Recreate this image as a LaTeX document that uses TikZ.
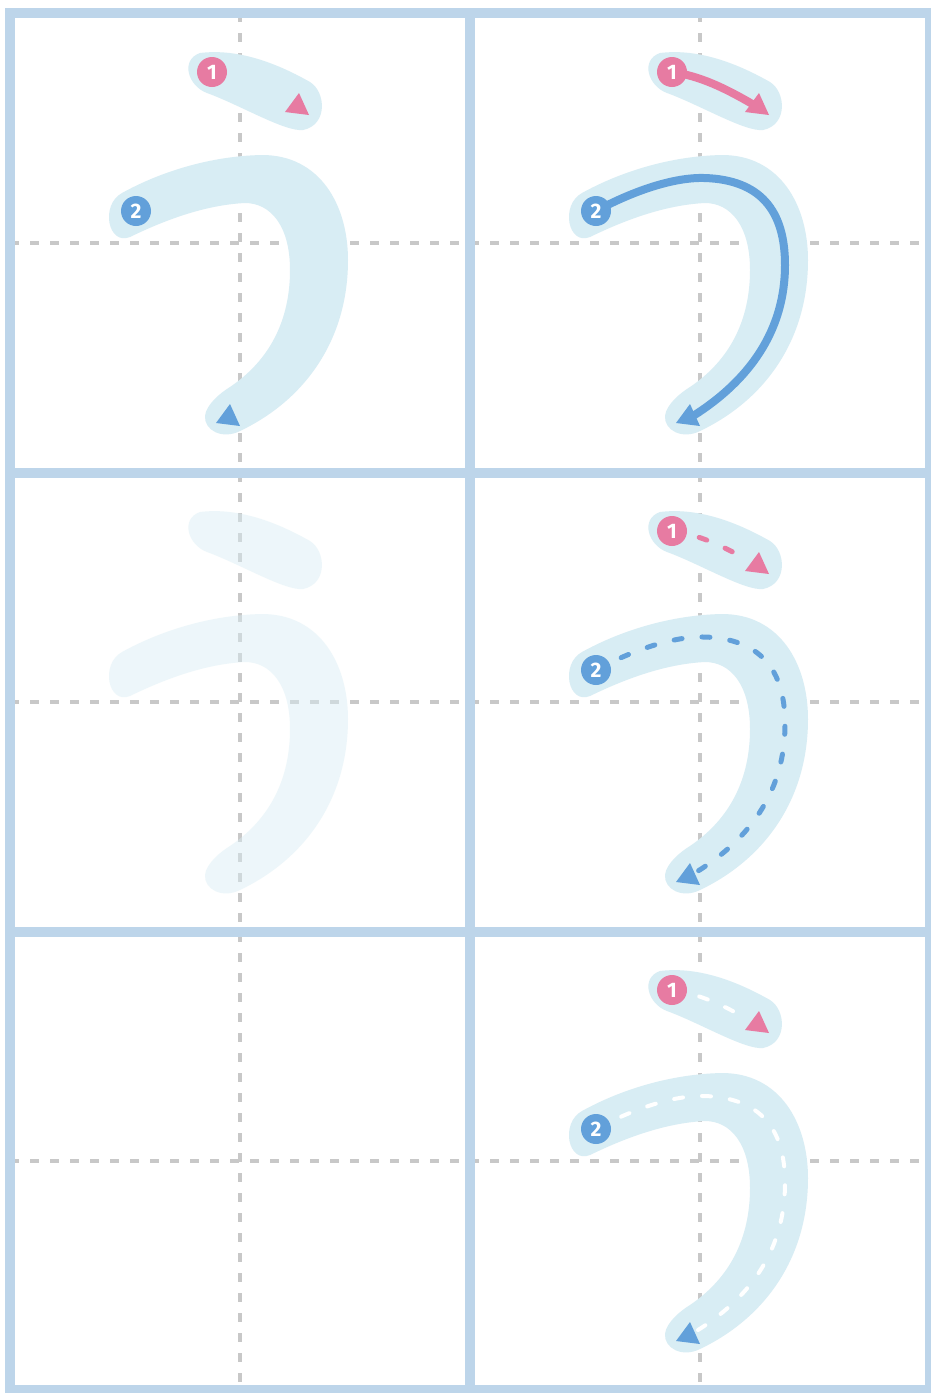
\documentclass[tikz,border=0pt]{standalone}
\usepackage{fontspec}
\newfontfamily\numfont{Fira Sans}
\definecolor{gridc}{HTML}{BDD5EA}
\definecolor{guidec}{HTML}{C8C8C8}
\definecolor{bandc}{HTML}{D8EDF4}
\definecolor{pinkc}{HTML}{E77BA2}
\definecolor{bluec}{HTML}{62A0DA}
\tikzset{
  gridline/.style={draw=gridc, line width=10pt},
  guide/.style={draw=guidec, line width=3.5pt, dash pattern=on 9pt off 11pt},
  numpink/.style={circle, fill=pinkc, text=white, inner sep=0pt, minimum size=30pt,
    font={\numfont\bfseries\fontsize{21pt}{21pt}\selectfont}},
  numblue/.style={numpink, fill=bluec},
  pinkline/.style={draw=pinkc, line width=8pt},
  blueline/.style={draw=bluec, line width=8pt},
  pinkdash/.style={draw=pinkc, line width=5pt, line cap=round, dash pattern=on 8pt off 20pt},
  bluedash/.style={draw=bluec, line width=5pt, line cap=round, dash pattern=on 8pt off 20pt},
  whitedash/.style={draw=white, line width=4pt, line cap=round, dash pattern=on 9pt off 19pt},
  bandone/.pic={\fill[bandc] (200,53) .. controls (240,48) and (280,65) .. (310,82)
      .. controls (326,92) and (328,125) .. (303,130)
      .. controls (285,132) and (240,105) .. (207,93)
      .. controls (188,86) and (180,60) .. (200,53) -- cycle;},
  bandtwo/.pic={\fill[bandc] (122,193) .. controls (160,172) and (210,156) .. (262,155)
      .. controls (320,155) and (348,205) .. (348,260)
      .. controls (348,340) and (305,400) .. (240,431)
      .. controls (222,440) and (204,430) .. (205,416)
      .. controls (206,405) and (220,393) .. (230,387)
      .. controls (270,360) and (290,320) .. (290,270)
      .. controls (290,225) and (270,203) .. (245,203)
      .. controls (205,205) and (165,220) .. (130,237)
      .. controls (108,246) and (100,205) .. (122,193) -- cycle;},
  tripink/.pic={\fill[pinkc] (285,112) -- (309,115) -- (299,93) -- cycle;},
  triblue/.pic={\fill[bluec] (216,423) -- (240,426) -- (230,404) -- cycle;}
}
\begin{document}
\begin{tikzpicture}[x=1pt, y=-1pt]
\useasboundingbox (0,0) rectangle (930,1393);
\fill[white] (0,0) rectangle (930,1393);

% guide lines
\coordinate (gv1t) at (240,13);  \coordinate (gv1b) at (240,1390);
\coordinate (gv2t) at (700,13);  \coordinate (gv2b) at (700,1390);
\coordinate (gh1l) at (10,243);  \coordinate (gh1r) at (930,243);
\coordinate (gh2l) at (10,702);  \coordinate (gh2r) at (930,702);
\coordinate (gh3l) at (10,1161); \coordinate (gh3r) at (930,1161);
\draw[guide] (gv1t) -- (gv1b);
\draw[guide] (gv2t) -- (gv2b);
\draw[guide] (gh1l) -- (gh1r);
\draw[guide] (gh2l) -- (gh2r);
\draw[guide] (gh3l) -- (gh3r);

% grid
\coordinate (tl) at (10,13);   \coordinate (tr) at (930,13);
\coordinate (bl) at (10,1390); \coordinate (br) at (930,1390);
\coordinate (tm) at (470,13);  \coordinate (bm) at (470,1390);
\coordinate (l1) at (10,473);  \coordinate (r1) at (930,473);
\coordinate (l2) at (10,932);  \coordinate (r2) at (930,932);
\draw[gridline] (tl) -- (tr) -- (br) -- (bl) -- cycle;
\draw[gridline] (tm) -- (bm);
\draw[gridline] (l1) -- (r1);
\draw[gridline] (l2) -- (r2);

% row 1, left
\begin{scope}
  \pic {bandone}; \pic {bandtwo};
  \pic {tripink}; \pic {triblue};
  \node[numpink] (a1) at (212,72) {1};
  \node[numblue] (a2) at (136,211) {2};
\end{scope}

% row 1, right
\begin{scope}[shift={(460,0)}]
  \pic {bandone}; \pic {bandtwo};
  \coordinate (b1s) at (212,72);  \coordinate (b1e) at (294,105);
  \coordinate (b2s) at (136,211); \coordinate (b2e) at (233,416);
  \draw[pinkline] (b1s) .. controls (240,76) and (265,88) .. (b1e);
  \draw[blueline] (b2s) .. controls (175,190) and (215,177) .. (245,178)
     .. controls (300,180) and (325,210) .. (325,265)
     .. controls (325,330) and (290,380) .. (b2e);
  \pic {tripink}; \pic {triblue};
  \node[numpink] (b1) at (b1s) {1};
  \node[numblue] (b2) at (b2s) {2};
\end{scope}

% row 2, left (faint)
\begin{scope}[shift={(0,459)}, opacity=0.45]
  \pic {bandone}; \pic {bandtwo};
\end{scope}

% row 2, right
\begin{scope}[shift={(460,459)}]
  \pic {bandone}; \pic {bandtwo};
  \coordinate (c1s) at (212,72);  \coordinate (c1e) at (282,98);
  \coordinate (c2s) at (136,211); \coordinate (c2e) at (238,412);
  \draw[pinkdash] (c1s) .. controls (240,76) and (262,87) .. (c1e);
  \draw[bluedash] (c2s) .. controls (175,190) and (215,177) .. (245,178)
     .. controls (300,180) and (325,210) .. (325,265)
     .. controls (325,330) and (292,378) .. (c2e);
  \pic {tripink}; \pic {triblue};
  \node[numpink] (c1) at (c1s) {1};
  \node[numblue] (c2) at (c2s) {2};
\end{scope}

% row 3, right
\begin{scope}[shift={(460,918)}]
  \pic {bandone}; \pic {bandtwo};
  \coordinate (d1s) at (212,72);  \coordinate (d1e) at (282,98);
  \coordinate (d2s) at (136,211); \coordinate (d2e) at (238,412);
  \draw[whitedash] (d1s) .. controls (240,76) and (262,87) .. (d1e);
  \draw[whitedash] (d2s) .. controls (175,190) and (215,177) .. (245,178)
     .. controls (300,180) and (325,210) .. (325,265)
     .. controls (325,330) and (292,378) .. (d2e);
  \pic {tripink}; \pic {triblue};
  \node[numpink] (d1) at (d1s) {1};
  \node[numblue] (d2) at (d2s) {2};
\end{scope}
\end{tikzpicture}
\end{document}
